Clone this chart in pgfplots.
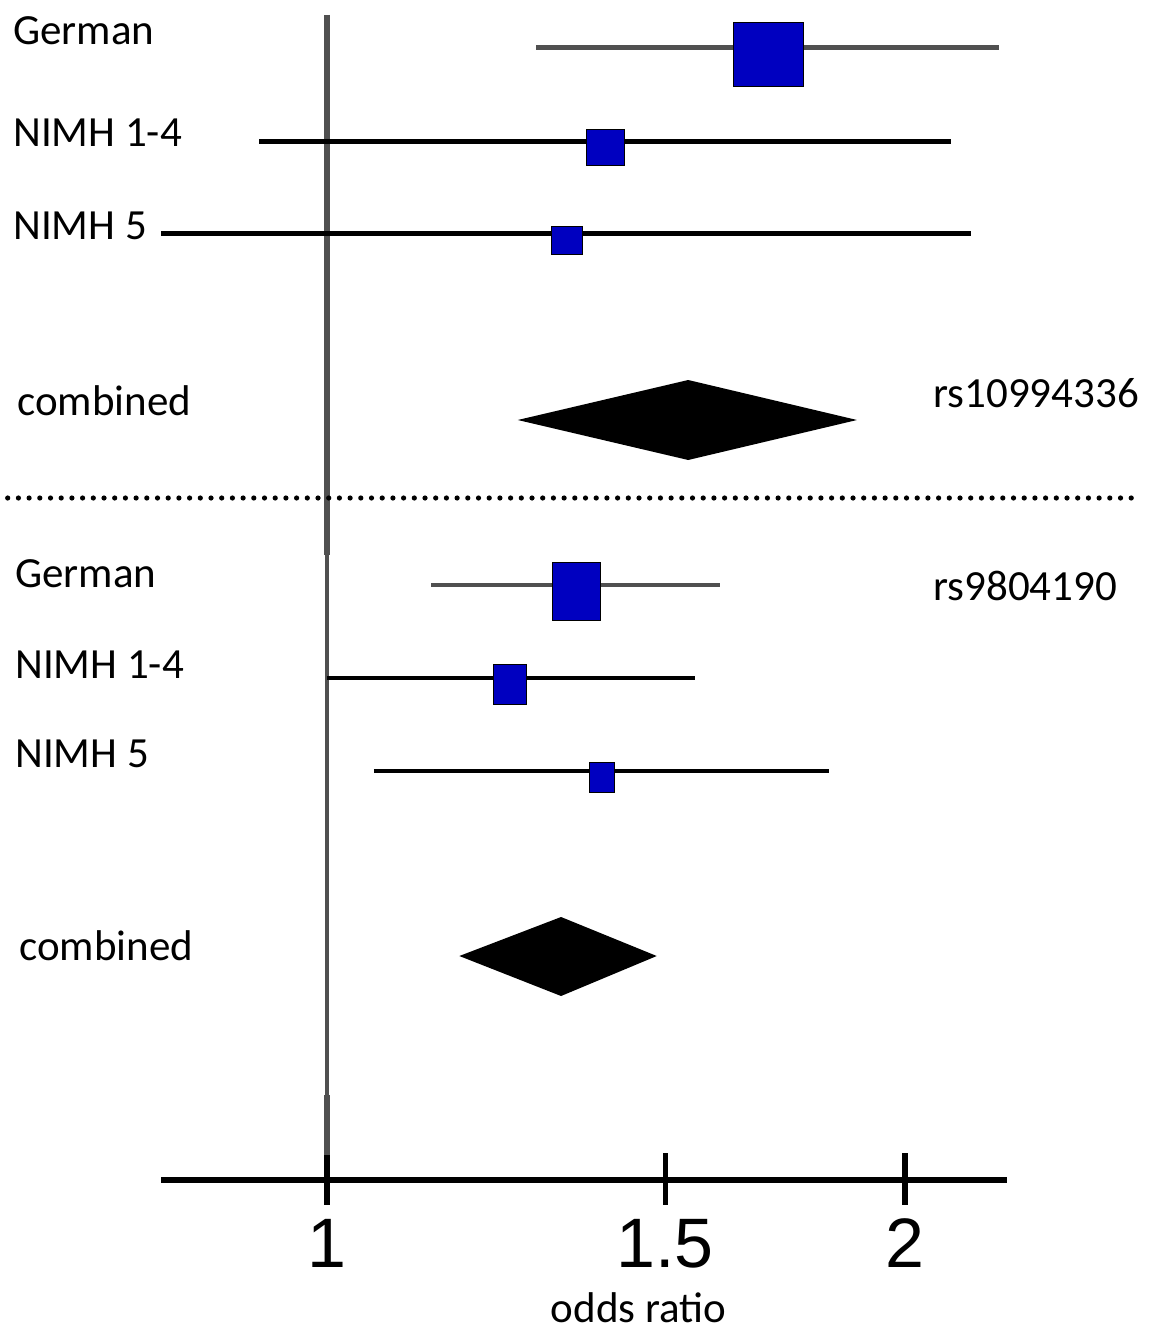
\documentclass[border=0pt]{standalone}
\usepackage{pgfplots}
\pgfplotsset{compat=1.18}
\usepackage{fontspec}
\setmainfont{Carlito}
\newfontfamily\arial{Liberation Sans}
\definecolor{fblue}{RGB}{0,0,192}
\definecolor{lgrey}{RGB}{80,80,80}
\tikzset{lbl/.style={anchor=base west, inner sep=0pt, font=\fontsize{21.5}{24}\selectfont}}
\begin{document}
\begin{tikzpicture}
\begin{axis}[
  xmode=log, xmin=0.6757, xmax=2.689,
  ymin=0, ymax=1332, y dir=reverse,
  width=576pt, height=666pt, scale only axis,
  hide axis, clip=false,
]
\path (rel axis cs:0,0) rectangle (rel axis cs:1,1);
% reference line at OR = 1
\addplot[lgrey, line width=2.8pt] coordinates {(1,15) (1,555)};
\addplot[lgrey, line width=1.8pt] coordinates {(1,555) (1,1095)};
\addplot[lgrey, line width=2.8pt] coordinates {(1,1095) (1,1155)};
% separator
\addplot[black, line width=2.6pt, line cap=round, dash pattern=on 0pt off 5.35pt] coordinates {(0.682,498) (2.635,498)};
% ---- rs10994336 ----
\addplot[lgrey, line width=2.5pt] coordinates {(1.285,48) (2.239,48)};
\addplot[only marks, mark=square*, mark size=16pt, mark options={xscale=1.094, draw=none, fill=fblue}] coordinates {(1.697,54)};
\addplot[black, line width=2.5pt] coordinates {(0.922,142) (2.113,142)};
\addplot[only marks, mark=square*, mark size=9pt, mark options={xscale=1.056, draw=none, fill=fblue}] coordinates {(1.396,147)};
\addplot[black, line width=2.5pt] coordinates {(0.820,234) (2.165,234)};
\addplot[only marks, mark=square*, mark size=7pt, mark options={xscale=1.107, draw=none, fill=fblue}] coordinates {(1.333,240)};
\addplot[fill=black, draw=none] coordinates {(1.257,420) (1.542,380) (1.888,420) (1.542,460)} -- cycle;
% ---- rs9804190 ----
\addplot[lgrey, line width=1.8pt] coordinates {(1.133,585) (1.602,585)};
\addplot[only marks, mark=square*, mark size=14.5pt, mark options={xscale=0.828, draw=none, fill=fblue}] coordinates {(1.348,591)};
\addplot[black, line width=1.8pt] coordinates {(1.000,678) (1.555,678)};
\addplot[only marks, mark=square*, mark size=10pt, mark options={xscale=0.825, draw=none, fill=fblue}] coordinates {(1.245,684)};
\addplot[black, line width=1.8pt] coordinates {(1.058,771) (1.826,771)};
\addplot[only marks, mark=square*, mark size=7.5pt, mark options={xscale=0.833, draw=none, fill=fblue}] coordinates {(1.391,777)};
\addplot[fill=black, draw=none] coordinates {(1.172,956) (1.324,917) (1.485,956) (1.324,996)} -- cycle;
% x axis
\addplot[black, line width=3pt] coordinates {(0.820,1180) (2.260,1180)};
\addplot[black, line width=2.6pt] coordinates {(1,1155) (1,1205)};
\addplot[black, line width=2.6pt] coordinates {(1.5,1153) (1.5,1205)};
\addplot[black, line width=2.6pt] coordinates {(2,1153) (2,1205)};
% tick labels
\node[anchor=base, inner sep=0pt, font=\arial\fontsize{35}{40}\selectfont] at (axis cs:1,1267) {1};
\node[anchor=base, inner sep=0pt, font=\arial\fontsize{35}{40}\selectfont] at (axis cs:1.5,1267) {1.5};
\node[anchor=base, inner sep=0pt, font=\arial\fontsize{35}{40}\selectfont] at (axis cs:2,1267) {2};
\node[anchor=base, inner sep=0pt, font=\fontsize{21.5}{24}\selectfont] at (axis cs:1.453,1322) {odds ratio};
% row labels
\node[lbl] at (axis cs:0.6862,45) {German};
\node[lbl] at (axis cs:0.6862,147) {NIMH 1-4};
\node[lbl] at (axis cs:0.6862,240) {NIMH 5};
\node[lbl] at (axis cs:0.6895,415) {combined};
\node[lbl] at (axis cs:0.6879,587) {German};
\node[lbl] at (axis cs:0.6879,678) {NIMH 1-4};
\node[lbl] at (axis cs:0.6879,767) {NIMH 5};
\node[lbl] at (axis cs:0.6912,960) {combined};
\node[lbl] at (axis cs:2.068,407) {rs10994336};
\node[lbl] at (axis cs:2.068,600) {rs9804190};
\end{axis}
\end{tikzpicture}
\end{document}
